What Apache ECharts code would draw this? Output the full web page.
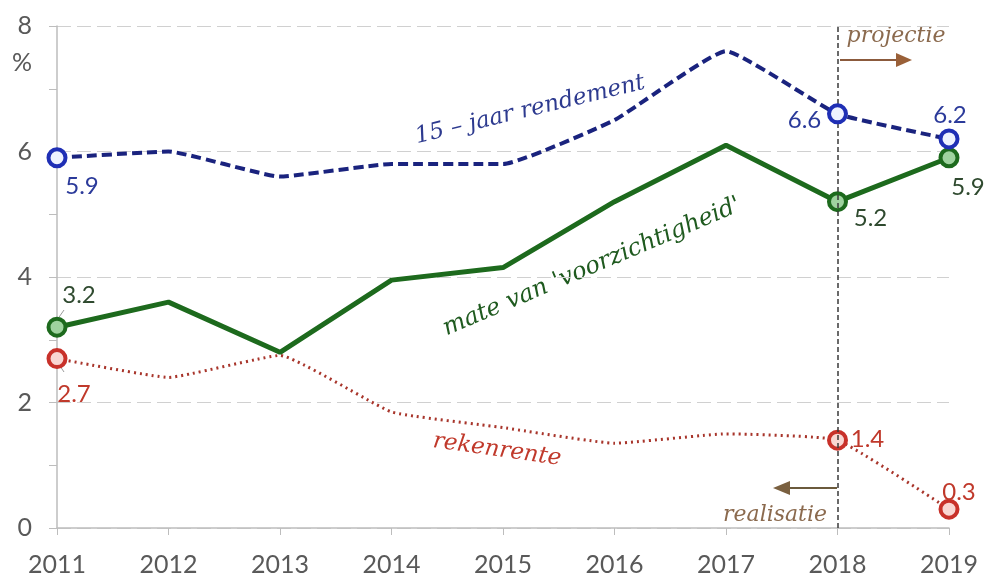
<!DOCTYPE html>
<html>
<head>
<meta charset="utf-8">
<script src="https://cdn.jsdelivr.net/npm/echarts@6/dist/echarts.min.js"></script>
<style>
html,body{margin:0;padding:0;background:#fff;}
#c{width:988px;height:577px;}
</style>
</head>
<body>
<div id="c"></div>
<script>
var years = ['2011','2012','2013','2014','2015','2016','2017','2018','2019'];
var rendement = [5.9, 6.0, 5.6, 5.8, 5.8, 6.5, 7.6, 6.6, 6.2];
var voorzichtigheid = [3.2, 3.6, 2.8, 3.95, 4.15, 5.2, 6.1, 5.2, 5.9];
var rekenrente = [2.7, 2.4, 2.75, 1.85, 1.6, 1.35, 1.5, 1.4, 0.3];
var yTicks = [0, 2, 4, 6, 8];
var markedIdx = [0, 7, 8];

var labelFont = 'Lato';
var annFont = '"DejaVu Serif", serif';

function buildData(vals, color, offsets) {
  return vals.map(function (v, i) {
    var k = markedIdx.indexOf(i);
    if (k < 0) return { value: v, symbolSize: 0, label: { show: false } };
    return {
      value: v,
      symbolSize: 17,
      label: {
        show: true,
        position: 'inside',
        offset: offsets[k],
        color: color,
        fontSize: 24,
        fontFamily: labelFont,
        formatter: function (p) { return p.value.toFixed(1); }
      }
    };
  });
}

var chart = echarts.init(document.getElementById('c'));
chart.setOption({
  backgroundColor: '#fff',
  animation: false,
  grid: { left: 57, right: 39, top: 26, bottom: 49, outerBoundsMode: 'none' },
  xAxis: {
    type: 'category',
    data: years,
    boundaryGap: false,
    axisLine: { lineStyle: { color: '#bdbdbd', width: 1.5 } },
    axisTick: { show: true, length: 7, alignWithLabel: true, lineStyle: { color: '#bdbdbd' } },
    axisLabel: { color: '#595959', fontSize: 25, fontFamily: labelFont, margin: 24 },
    splitLine: { show: false }
  },
  yAxis: {
    type: 'value',
    min: yTicks[0],
    max: yTicks[yTicks.length - 1],
    interval: 2,
    axisLine: { show: true, lineStyle: { color: '#bdbdbd', width: 1.5 } },
    axisTick: { show: true, length: 8, lineStyle: { color: '#bdbdbd' } },
    minorTick: { show: true, splitNumber: 2, length: 8, lineStyle: { color: '#bdbdbd' } },
    axisLabel: { color: '#595959', fontSize: 25, fontFamily: labelFont, margin: 25 },
    splitLine: { show: true, lineStyle: { color: '#d0d0d0', type: [14, 6], width: 1 } }
  },
  series: [
    {
      name: 'rekenrente',
      type: 'line',
      smooth: 0.12,
      symbol: 'circle',
      z: 3,
      lineStyle: { color: '#a8352b', width: 3, type: [2, 4] },
      itemStyle: { color: '#f9d6d2', borderColor: '#c8312a', borderWidth: 4 },
      data: buildData(rekenrente, '#c0392b', [[17, 36], [30, -1], [10, -17]]),
      markLine: {
        silent: true,
        symbol: ['none', 'none'],
        label: { show: false },
        lineStyle: { color: '#3a3a3a', type: [5, 3], width: 1.5 },
        data: [{ xAxis: '2018' }]
      }
    },
    {
      name: 'voorzichtigheid',
      type: 'line',
      symbol: 'circle',
      z: 4,
      lineStyle: { color: '#1d6a1d', width: 5 },
      itemStyle: { color: '#9fd39f', borderColor: '#1d6a1d', borderWidth: 4 },
      data: buildData(voorzichtigheid, '#2f4a2f', [[22, -32], [33, 17], [19, 29]])
    },
    {
      name: 'rendement',
      type: 'line',
      smooth: 0.12,
      symbol: 'circle',
      z: 5,
      lineStyle: { color: '#1a237e', width: 4, type: [10, 5] },
      itemStyle: { color: '#eef2ff', borderColor: '#1f2fb5', borderWidth: 4 },
      data: buildData(rendement, '#2b3a9a', [[25, 28], [-33, 6], [1, -24]])
    }
  ],
  graphic: [
    { type: 'text', x: 22, y: 63, style: { text: '%', fill: '#595959', font: '25px ' + labelFont, align: 'center', verticalAlign: 'middle' } },
    { type: 'text', x: 530, y: 110, rotation: 13.5 * Math.PI / 180,
      style: { text: '15 \u2013 jaar rendement', fill: '#2d3a8f', font: 'italic 23px ' + annFont, align: 'center', verticalAlign: 'middle' } },
    { type: 'text', x: 592, y: 267, rotation: 23 * Math.PI / 180,
      style: { text: "mate van 'voorzichtigheid'", fill: '#1f5a1f', font: 'italic 24px ' + annFont, align: 'center', verticalAlign: 'middle' } },
    { type: 'text', x: 497, y: 450, rotation: -8 * Math.PI / 180,
      style: { text: 'rekenrente', fill: '#c0392b', font: 'italic 23px ' + annFont, align: 'center', verticalAlign: 'middle' } },
    { type: 'text', x: 896, y: 36,
      style: { text: 'projectie', fill: '#8b6a4e', font: 'italic 22px ' + annFont, align: 'center', verticalAlign: 'middle' } },
    { type: 'text', x: 775, y: 515,
      style: { text: 'realisatie', fill: '#8b6a4e', font: 'italic 22px ' + annFont, align: 'center', verticalAlign: 'middle' } },
    { type: 'line', shape: { x1: 840, y1: 60, x2: 900, y2: 60 }, style: { stroke: '#8b5a3c', lineWidth: 2 } },
    { type: 'polygon', shape: { points: [[912, 60], [896, 53], [896, 67]] }, style: { fill: '#9a6038' } },
    { type: 'line', shape: { x1: 837, y1: 488, x2: 786, y2: 488 }, style: { stroke: '#6b5a3c', lineWidth: 2 } },
    { type: 'polygon', shape: { points: [[773, 488], [790, 481], [790, 495]] }, style: { fill: '#7a6040' } },
    { type: 'line', shape: { x1: 64, y1: 310, x2: 57, y2: 320 }, style: { stroke: '#9a9a9a', lineWidth: 1 } },
    { type: 'line', shape: { x1: 64, y1: 372, x2: 58, y2: 363 }, style: { stroke: '#9a9a9a', lineWidth: 1 } }
  ]
});
</script>
</body>
</html>
